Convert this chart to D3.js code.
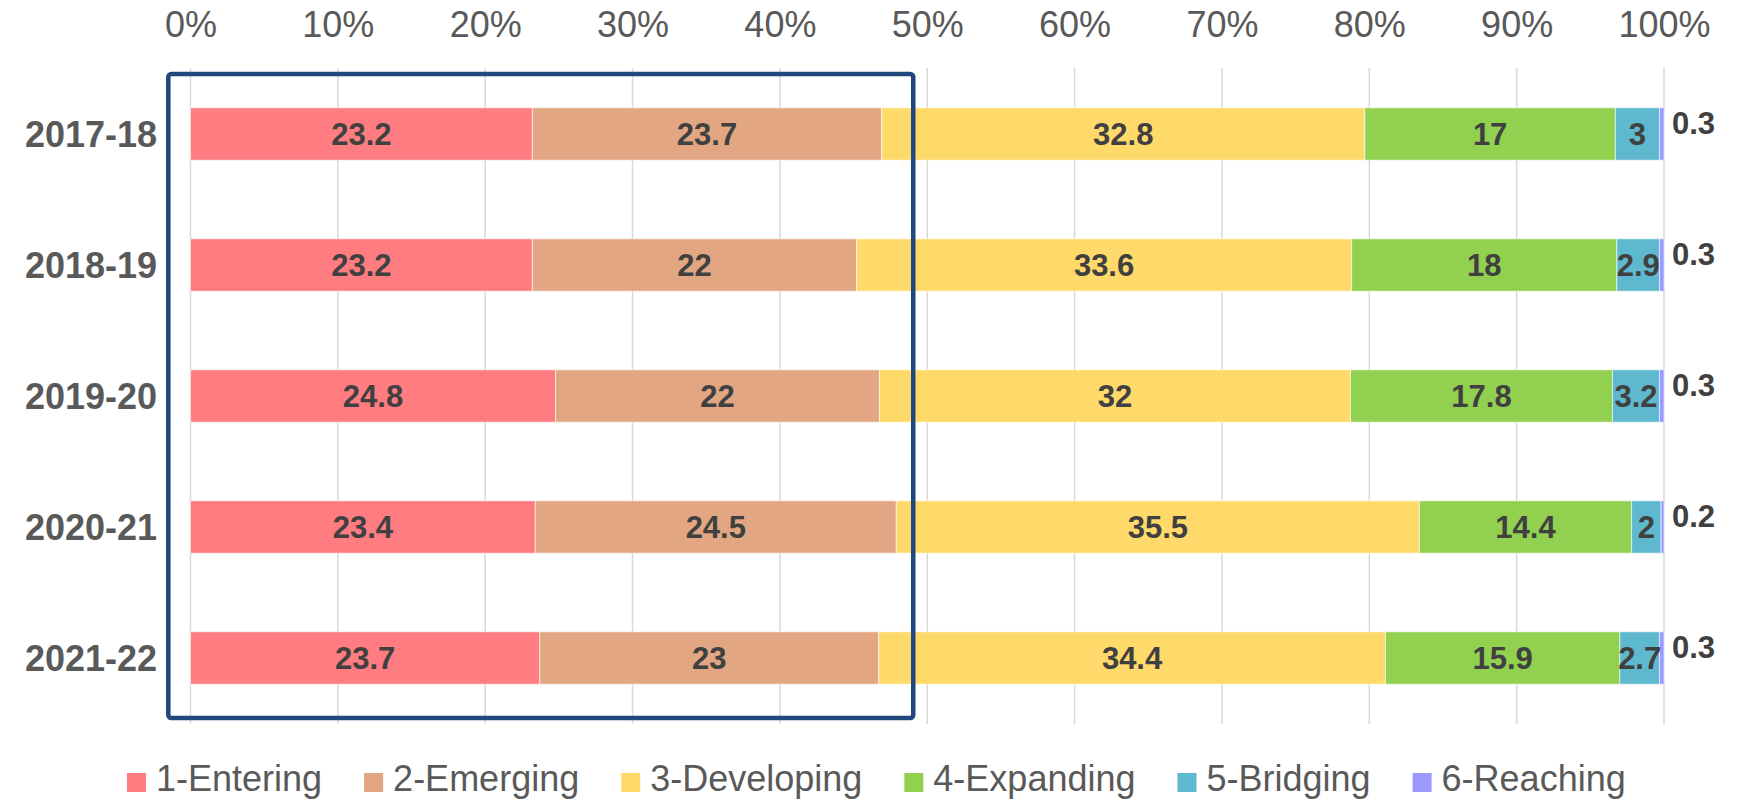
<!DOCTYPE html>
<html>
<head>
<meta charset="utf-8">
<script src="https://cdn.jsdelivr.net/npm/d3@7"></script>
<style>
  html, body { margin: 0; padding: 0; background: #fff; }
  svg { display: block; font-family: "Liberation Sans", Arial, sans-serif; }
</style>
</head>
<body>
<svg id="chart" width="1745" height="803"></svg>
<script>
// School years shown on the vertical axis
const years = ["2017-18", "2018-19", "2019-20", "2020-21", "2021-22"];

// Proficiency levels (legend order)
const levels = ["1-Entering", "2-Emerging", "3-Developing", "4-Expanding", "5-Bridging", "6-Reaching"];
const levelColors = ["#FF7C80", "#E2A683", "#FFDA6A", "#92D050", "#5EB9CF", "#9999FF"];

// Percentage of students at each level, one array per level (same order as years)
const entering   = [23.2, 23.2, 24.8, 23.4, 23.7];
const emerging   = [23.7, 22.0, 22.0, 24.5, 23.0];
const developing = [32.8, 33.6, 32.0, 35.5, 34.4];
const expanding  = [17.0, 18.0, 17.8, 14.4, 15.9];
const bridging   = [3.0, 2.9, 3.2, 2.0, 2.7];
const reaching   = [0.3, 0.3, 0.3, 0.2, 0.3];

// Top axis ticks
const tickValues = [0, 0.1, 0.2, 0.3, 0.4, 0.5, 0.6, 0.7, 0.8, 0.9, 1.0];

const seriesValues = [entering, emerging, developing, expanding, bridging, reaching];
const rows = years.map((y, i) => {
  const r = { year: y };
  levels.forEach((l, j) => { r[l] = seriesValues[j][i]; });
  return r;
});

const svg = d3.select("#chart");

const x = d3.scaleLinear().domain([0, 1]).range([190.5, 1664]);
const y = d3.scaleBand().domain(years).range([68.5, 723.5]).paddingInner(0.6).paddingOuter(0.3);

// Gridlines
svg.append("g")
  .selectAll("line")
  .data(tickValues)
  .join("line")
  .attr("x1", d => x(d)).attr("x2", d => x(d))
  .attr("y1", 68).attr("y2", 724)
  .attr("stroke", "#D9D9D9")
  .attr("stroke-width", 1.5);

// Top axis labels
const xAxis = d3.axisTop(x)
  .tickValues(tickValues)
  .tickFormat(d3.format(".0%"))
  .tickSize(0)
  .tickPadding(0);
const gx = svg.append("g").attr("transform", "translate(0,37)").call(xAxis);
gx.select(".domain").remove();
gx.selectAll("text")
  .attr("dy", 0)
  .attr("font-size", 36)
  .attr("font-family", "Liberation Sans, Arial, sans-serif")
  .attr("fill", "#595959");

// Left axis labels
const yAxis = d3.axisLeft(y).tickSize(0).tickPadding(0);
const gy = svg.append("g").attr("transform", "translate(157,0)").call(yAxis);
gy.select(".domain").remove();
gy.selectAll("text")
  .attr("font-size", 36)
  .attr("font-weight", "bold")
  .attr("font-family", "Liberation Sans, Arial, sans-serif")
  .attr("fill", "#595959")
  .attr("dy", "0.36em");

// 100% stacked bars
const stack = d3.stack().keys(levels).offset(d3.stackOffsetExpand);
const stacked = stack(rows);

const layer = svg.append("g")
  .selectAll("g")
  .data(stacked)
  .join("g")
  .attr("fill", (d, i) => levelColors[i]);

layer.selectAll("rect")
  .data(d => d)
  .join("rect")
  .attr("x", d => x(d[0]))
  .attr("y", d => y(d.data.year))
  .attr("width", d => x(d[1]) - x(d[0]))
  .attr("height", y.bandwidth())
  .attr("stroke", "#ffffff")
  .attr("stroke-opacity", 0.6)
  .attr("stroke-width", 1);

// Value labels inside the first five segments
const inner = stacked.slice(0, 5);
svg.append("g")
  .selectAll("g")
  .data(inner)
  .join("g")
  .selectAll("text")
  .data(d => d.map(s => ({ s, key: d.key })))
  .join("text")
  .attr("x", d => (x(d.s[0]) + x(d.s[1])) / 2)
  .attr("y", d => y(d.s.data.year) + y.bandwidth() / 2)
  .attr("dy", "0.36em")
  .attr("text-anchor", "middle")
  .attr("font-size", 31)
  .attr("font-weight", "bold")
  .attr("fill", "#404040")
  .text(d => d.s.data[d.key]);

// Labels for the thin last segment, placed past the end of the bar
const last = stacked[5];
svg.append("g")
  .selectAll("text")
  .data(last)
  .join("text")
  .attr("x", d => x(d[1]) + 8)
  .attr("y", d => y(d.data.year) + y.bandwidth() / 2 - 11)
  .attr("dy", "0.36em")
  .attr("font-size", 31)
  .attr("font-weight", "bold")
  .attr("fill", "#404040")
  .text(d => d.data[levels[5]]);

// Highlight box around the first two levels
svg.append("rect")
  .attr("x", 168.3)
  .attr("y", 74)
  .attr("width", x(0.4905) - 168.3)
  .attr("height", 644)
  .attr("rx", 3)
  .attr("fill", "none")
  .attr("stroke", "#1F497D")
  .attr("stroke-width", 4.5);

// Legend
const legend = svg.append("g").attr("font-size", 36).attr("fill", "#595959");
let lx = 127;
levels.forEach((l, i) => {
  const g = legend.append("g").attr("transform", `translate(${lx},0)`);
  g.append("rect")
    .attr("x", 0).attr("y", 773)
    .attr("width", 19).attr("height", 19)
    .attr("fill", levelColors[i]);
  const t = g.append("text")
    .attr("x", 29).attr("y", 791)
    .attr("fill", "#595959")
    .text(l);
  const w = t.node().getComputedTextLength();
  lx += 29 + w + 42;
});
</script>
</body>
</html>
